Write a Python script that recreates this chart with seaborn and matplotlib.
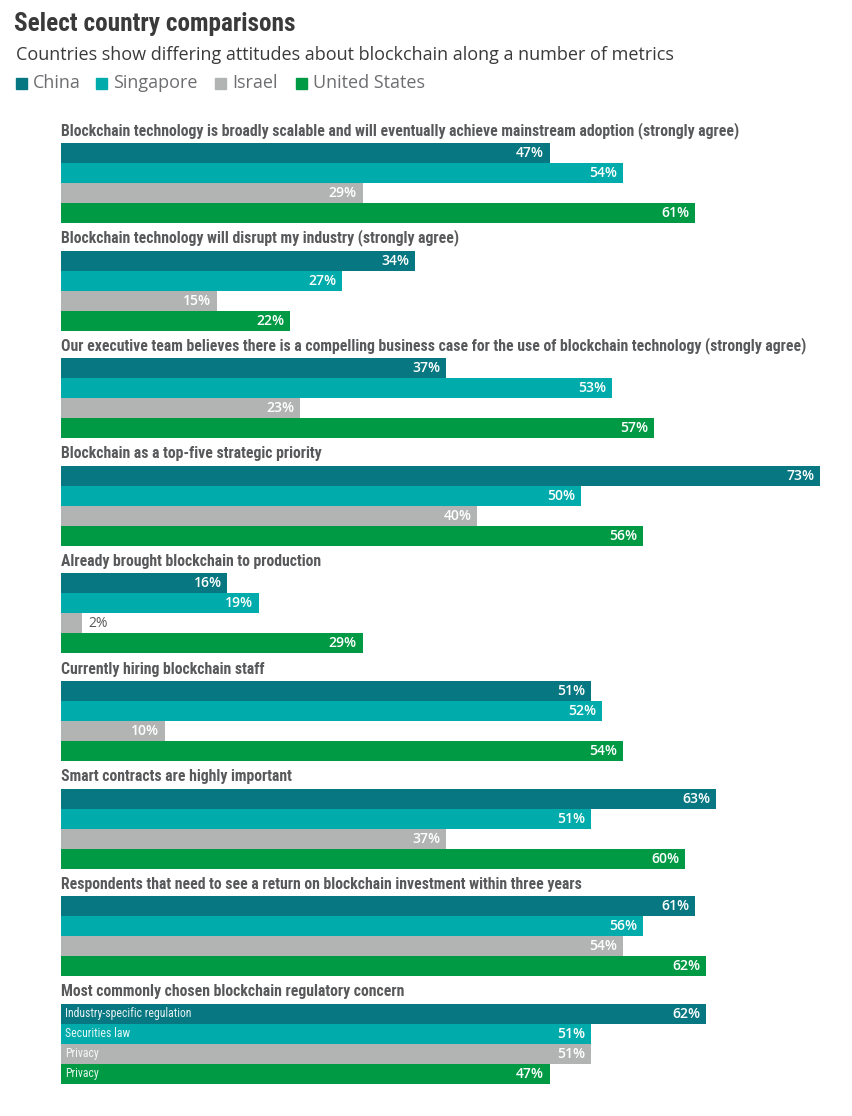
import matplotlib
matplotlib.use("Agg")
import matplotlib.pyplot as plt
from matplotlib import font_manager
import seaborn as sns
import pandas as pd

# Daten
questions = [
    "Blockchain technology is broadly scalable and will eventually achieve mainstream adoption (strongly agree)",
    "Blockchain technology will disrupt my industry (strongly agree)",
    "Our executive team believes there is a compelling business case for the use of blockchain technology (strongly agree)",
    "Blockchain as a top-five strategic priority",
    "Already brought blockchain to production",
    "Currently hiring blockchain staff",
    "Smart contracts are highly important",
    "Respondents that need to see a return on blockchain investment within three years",
    "Most commonly chosen blockchain regulatory concern",
]
countries = ["China", "Singapore", "Israel", "United States"]
china = [47, 34, 37, 73, 16, 51, 63, 61, 62]
singapore = [54, 27, 53, 50, 19, 52, 51, 56, 51]
israel = [29, 15, 23, 40, 2, 10, 37, 54, 51]
united_states = [61, 22, 57, 56, 29, 54, 60, 62, 47]
concern_labels = ["Industry-specific regulation", "Securities law", "Privacy", "Privacy"]

colors = ["#077782", "#00ABAB", "#B2B4B4", "#009A44"]
title_color = "#58595B"

rows = []
for i, q in enumerate(questions):
    for c, vals in zip(countries, [china, singapore, israel, united_states]):
        rows.append({"question": i, "country": c, "value": vals[i]})
df = pd.DataFrame(rows)

sns.set_style("white")
plt.rcParams["font.family"] = ["Open Sans", "DejaVu Sans"]

# schmale Schrift, falls vorhanden
installed = {f.name for f in font_manager.fontManager.ttflist}
narrow_name = next((n for n in ["Liberation Sans Narrow", "DejaVu Sans Condensed",
                                "Roboto Condensed", "Open Sans Condensed"]
                    if n in installed), "Open Sans")
narrow = [narrow_name, "DejaVu Sans"]

W, H = 853, 1116
fig = plt.figure(figsize=(W / 100, H / 100), dpi=100)
ax = fig.add_axes([0, 0, 1, 1])

width = 80 / 107.6
sns.barplot(data=df, y="question", x="value", hue="country", orient="h",
            palette=colors, hue_order=countries, width=width, gap=0,
            saturation=1, linewidth=0, ax=ax, legend=False,
            order=list(range(len(questions))))

# x_px = 61 + 10.4*v ; y_px = 183 + 107.6*c
px_per_val = 10.4
ax.set_xlim(-61 / px_per_val, (W - 61) / px_per_val)
ax.set_ylim((H - 183) / 107.6, -183 / 107.6)
ax.axis("off")

renderer = fig.canvas.get_renderer()


def fit(txt, target_px):
    # Schriftgroesse so anpassen, dass die Breite passt
    w = txt.get_window_extent(renderer).width
    if w > target_px:
        txt.set_fontsize(txt.get_fontsize() * target_px / w)


bar_h = width / 4
q_texts = []
for i, q in enumerate(questions):
    top = i - width / 2
    t = ax.text(0, top - 0.04, q, fontsize=12.5, fontweight="bold", color=title_color,
                family=narrow, va="bottom", ha="left")
    q_texts.append(t)
    for j, vals in enumerate([china, singapore, israel, united_states]):
        v = vals[i]
        yc = top + bar_h * (j + 0.5)
        if v < 5:
            ax.text(v + 0.6, yc, f"{v}%", fontsize=10, color=title_color,
                    va="center", ha="left")
        else:
            ax.text(v - 0.55, yc, f"{v}%", fontsize=10, color="white",
                    fontweight="semibold", va="center", ha="right")
        if i == len(questions) - 1:
            ax.text(0.35, yc, concern_labels[j], fontsize=8.5, color="white",
                    family=narrow, va="center", ha="left", alpha=0.9)

# laengster Titel soll bis ca. x=808 reichen
longest = max(q_texts, key=lambda t: t.get_window_extent(renderer).width)
scale = 747 / longest.get_window_extent(renderer).width
for t in q_texts:
    t.set_fontsize(min(12.5, t.get_fontsize() * scale))

# Titel und Legende
title = fig.text(14 / W, 1 - 24 / H, "Select country comparisons", fontsize=19,
                 fontweight="bold", color="#3A3A3A", family=narrow, va="center")
fit(title, 282)
sub = fig.text(16 / W, 1 - 55 / H,
               "Countries show differing attitudes about blockchain along a number of metrics",
               fontsize=13.5, color="#3A3A3A", va="center")
fit(sub, 660)

legend_x = [16, 96, 215, 296]
for x0, c, col in zip(legend_x, countries, colors):
    fig.patches.append(plt.Rectangle((x0 / W, 1 - 89 / H), 11 / W, 11 / H,
                                     transform=fig.transFigure, color=col))
    fig.text((x0 + 17) / W, 1 - 83 / H, c, fontsize=13, color="#6D6E71",
             va="center")

fig.savefig("out.png", dpi=100)
